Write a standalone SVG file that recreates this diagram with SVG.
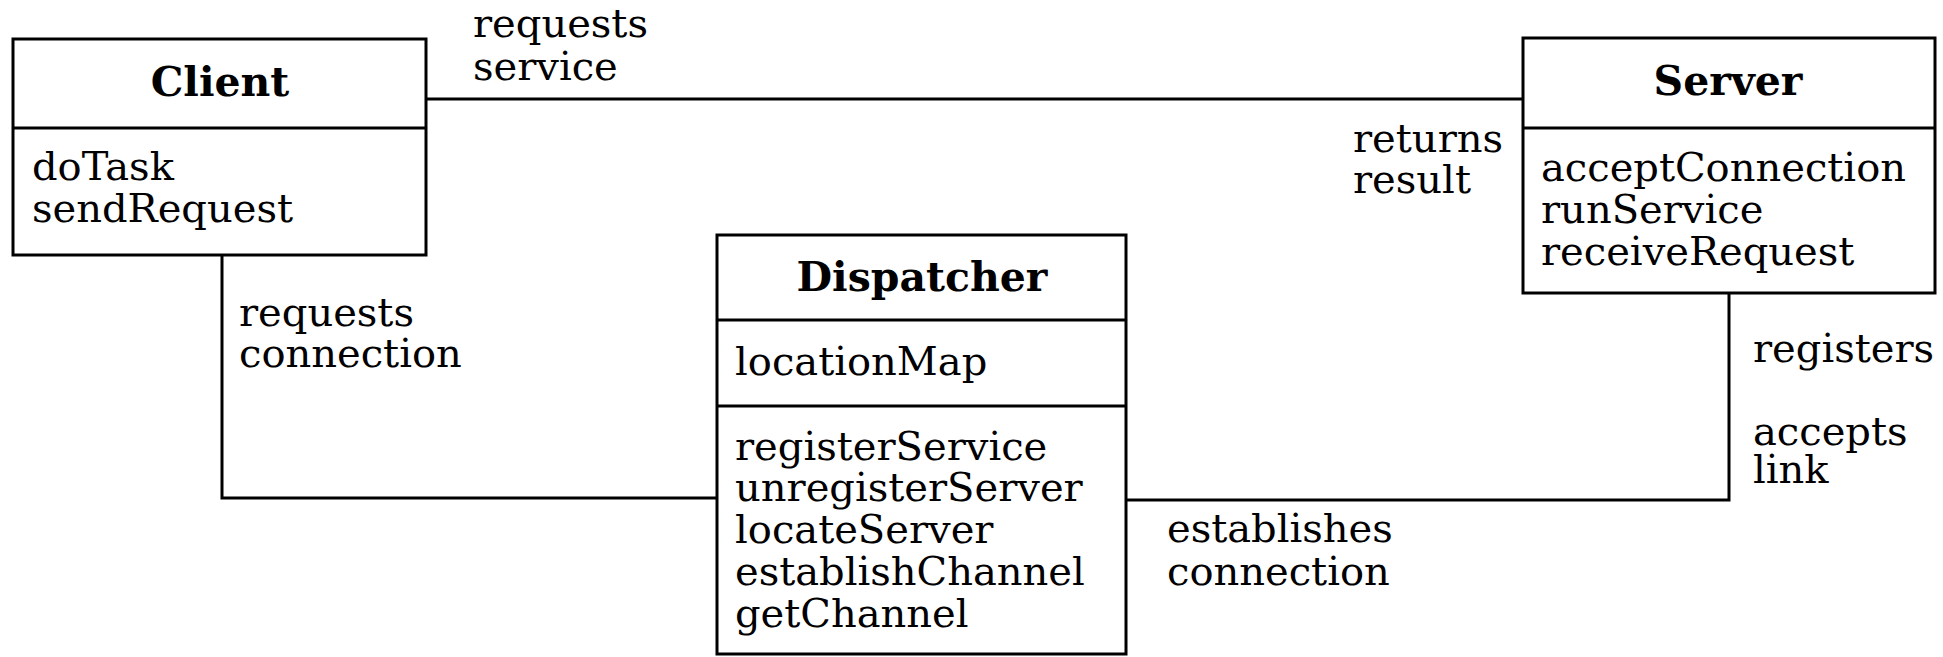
<svg xmlns="http://www.w3.org/2000/svg" width="1943" height="657" viewBox="0 0 1943 657">
<style>
.box{fill:#fff;stroke:#000;stroke-width:3}
.div{stroke:#000;stroke-width:3}
.ln{fill:none;stroke:#000;stroke-width:3}
text{font-family:"DejaVu Serif","Liberation Serif",serif;font-size:40px;fill:#000}
.t{font-weight:bold;font-size:41px;text-anchor:middle}
</style>
<rect width="1943" height="657" fill="#fff"/>
<g id="connectors">
<polyline class="ln" points="427,99 1523,99"/>
<polyline class="ln" points="222,256 222,498 717,498"/>
<polyline class="ln" points="1126,500 1729,500 1729,293"/>
<text x="473" y="37">requests</text>
<text x="473" y="80">service</text>
<text x="1353" y="152">returns</text>
<text x="1353" y="193">result</text>
<text x="239" y="326">requests</text>
<text x="239" y="367">connection</text>
<text x="1753" y="362">registers</text>
<text x="1753" y="445">accepts</text>
<text x="1753" y="483">link</text>
<text x="1167" y="542">establishes</text>
<text x="1167" y="585">connection</text>
</g>
<g id="client">
<rect class="box" x="13" y="39" width="413" height="216"/>
<line class="div" x1="13" y1="128" x2="426" y2="128"/>
<text class="t" x="220" y="96">Client</text>
<text x="32" y="180">doTask</text>
<text x="32" y="222">sendRequest</text>
</g>
<g id="server">
<rect class="box" x="1523" y="38" width="412" height="255"/>
<line class="div" x1="1523" y1="128" x2="1935" y2="128"/>
<text class="t" x="1728" y="95">Server</text>
<text x="1541" y="181">acceptConnection</text>
<text x="1541" y="223">runService</text>
<text x="1541" y="265">receiveRequest</text>
</g>
<g id="dispatcher">
<rect class="box" x="717" y="235" width="409" height="419"/>
<line class="div" x1="717" y1="320" x2="1126" y2="320"/>
<line class="div" x1="717" y1="406" x2="1126" y2="406"/>
<text class="t" x="922" y="291">Dispatcher</text>
<text x="735" y="375">locationMap</text>
<text x="735" y="460">registerService</text>
<text x="735" y="501">unregisterServer</text>
<text x="735" y="543">locateServer</text>
<text x="735" y="585">establishChannel</text>
<text x="735" y="627">getChannel</text>
</g>
</svg>
